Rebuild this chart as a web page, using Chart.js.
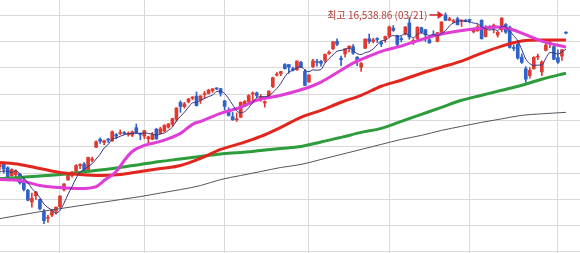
<!DOCTYPE html>
<html>
<head>
<meta charset="utf-8">
<script src="https://cdn.jsdelivr.net/npm/chart.js@4.4.1/dist/chart.umd.min.js"></script>
<style>
html, body { margin: 0; padding: 0; background: #fff; }
#wrap { width: 580px; height: 253px; }
</style>
</head>
<body>
<div id="wrap"><canvas id="chart" width="580" height="253"></canvas></div>
<script>
// daily candles, 2023-10-11 .. 2024-05-03 (index = trading day)
const openP = [13620,13700,13600,13450,13470,13480,13360,13170,12950,13070,13000,12770,12640,12700,12780,
  12860,13180,13370,13450,13530,13640,13670,13550,13740,13990,14140,14080,14130,14110,14230,14250,14260,14230,14220,14360,14250,
  14200,14150,14140,14330,14250,14300,14370,14430,14520,14840,14760,14850,14920,14960,14880,14990,15010,15060,15110,15100,
  14870,14690,14570,14510,14560,14770,14850,15000,15020,14900,14830,14950,15140,15360,15390,15560,15560,15480,15460,15600,15430,
  15230,15520,15600,15620,15640,15770,15860,16000,15680,15760,15880,15900,15700,15510,15870,16050,16000,16040,15980,16040,
  16100,16250,16110,16050,16140,16350,16000,16050,16260,16220,16030,16130,16000,16170,16500,16400,16370,16430,16390,16390,
  16400,16180,16200,16400,16090,16270,16290,16120,16220,16320,16270,15880,15950,15700,15480,15350,15480,15700,15420,15830,15960,15900,
  15690,15720,16170];
const highP = [13670,13710,13620,13580,13560,13500,13420,13190,13120,13150,13010,12810,12700,12810,12860,
  13070,13300,13500,13530,13660,13680,13700,13800,13800,14110,14170,14125,14160,14300,14250,14320,14290,14280,14300,14430,14260,
  14310,14200,14270,14350,14370,14420,14440,14540,14740,14870,14840,14920,14950,15040,14970,15050,15090,15100,15120,15110,
  14880,14740,14650,14640,14850,14880,14990,15040,15040,14990,14870,15060,15320,15410,15430,15580,15560,15510,15630,15620,15470,
  15370,15660,15660,15640,15760,15820,16000,16050,15720,15860,15920,15940,15710,15600,16050,16140,16060,16070,16000,16100,
  16290,16300,16120,16090,16280,16450,16050,16280,16270,16230,16090,16200,16170,16370,16538.86,16460,16420,16460,16400,16420,
  16420,16250,16320,16410,16300,16300,16330,16190,16450,16340,16290,15930,15950,15760,15520,15500,15710,15760,15630,15960,16000,15920,
  15840,15850,16180];
const lowP = [13560,13500,13360,13440,13390,13290,13160,12970,12850,13000,12800,12540,12560,12670,12720,
  12840,13160,13360,13420,13510,13580,13510,13540,13710,13980,14060,14040,14080,14100,14150,14230,14230,14200,14190,14250,14130,
  14150,14060,14130,14140,14240,14280,14350,14390,14480,14650,14730,14830,14890,14770,14820,14920,15000,15030,15080,14960,
  14700,14580,14500,14480,14550,14760,14840,14870,14930,14860,14750,14910,15120,15340,15350,15470,15390,15440,15450,15500,15160,
  15220,15500,15530,15530,15600,15750,15840,15920,15540,15700,15800,15750,15540,15430,15860,15960,15970,15980,15900,15980,
  16080,16190,15880,15990,16120,16040,15940,16020,16150,16000,15960,16090,15990,16130,16390,16390,16350,16310,16280,16370,
  16350,16160,16190,16040,16080,16230,16160,16080,16180,16150,15870,15820,15660,15580,15220,15300,15470,15650,15350,15820,15880,15650,
  15580,15640,16140];
const closeP = [13659,13574,13407,13567,13533,13314,13186,12984,13019,13139,12821,12595,12643,12789,12851,
  13061,13294,13478,13518,13640,13650,13521,13798,13768,14094,14103,14113,14125,14285,14200,14266,14250,14241,14282,14258,14226,
  14305,14185,14229,14147,14339,14404,14432,14533,14734,14762,14814,14905,14944,14778,14964,14993,15074,15100,15096,15011,
  14766,14592,14511,14524,14843,14857,14970,15003,14973,14944,14856,15056,15311,15361,15426,15482,15511,15455,15628,15510,15164,
  15361,15629,15598,15582,15756,15794,15990,15943,15655,15859,15906,15776,15631,15580,16041,15996,16028,16035,15948,16092,
  16275,16207,15940,16032,16273,16085,16019,16265,16178,16129,15973,16103,16166,16369,16401,16429,16384,16315,16400,16379,
  16397,16240,16277,16050,16249,16253,16306,16170,16442,16175,15885,15865,15683,15601,15282,15451,15697,15713,15611,15928,15983,15658,
  15605,15840,16156];

// moving averages at sample days
const ma5Head = [13520, 13540, 13530, 13510];   // first 4 days of the 5-day line (earlier closes not shown)
const maIdx = [0,5,10,15,20,25,30,35,40,45,50,55,60,65,70,75,80,85,90,95,100,105,110,115,120,125,130,135,141];
const ma60 = [13700,13662,13585,13510,13471,13452,13471,13528,13585,13643,13776,13947,14062,14195,14367,14557,14690,14843,14976,15147,
  15262,15395,15509,15624,15776,15910,16005,16024,16024];
const ma120 = [13395,13414,13443,13471,13510,13557,13604,13662,13719,13766,13814,13862,13890,13928,13966,14005,14090,14176,14271,14347,
  14481,14614,14747,14881,14976,15071,15167,15281,15395];
const ma240 = [12633,12700,12766,12823,12881,12938,12995,13052,13119,13185,13262,13376,13452,13528,13605,13662,13757,13852,13947,14043,
  14138,14214,14309,14386,14462,14528,14595,14624,14652];
const ma20Idx = [0,5,10,15,20,24,26,29,31,33,36,40,45,48,50,55,60,64,70,77,80,85,88,92,96,100,103,110,118,124,127,130,135,141];
const ma20 = [13376,13357,13262,13223,13205,13243,13357,13528,13738,13909,14024,14100,14252,14424,14481,14633,14748,14881,14976,15128,
  15224,15452,15586,15719,15833,15910,15986,16138,16233,16271,16233,16157,16005,15890];

const monthStarts = [15, 36, 56, 77, 97, 117, 139];
const yTicks = [12000, 12500, 13000, 13500, 14000, 14500, 15000, 15500, 16000, 16500];
const peakIdx = 111;
const peakLabel = "최고 16,538.86 (03/21)";

const UP = "#e0392f";
const DOWN = "#2f62c8";

const candleColor = closeP.map((c, i) => (c >= openP[i] ? UP : DOWN));
const bodies = closeP.map((c, i) => ({ x: i, y: [openP[i], c] }));
const wicks = closeP.map((c, i) => ({ x: i, y: [lowP[i], highP[i]] }));
const ma5 = ma5Head.map((v, i) => ({ x: i, y: v }));
for (let i = 4; i < closeP.length; i++) {
    let s = 0;
    for (let k = i - 4; k <= i; k++) s += closeP[k];
    ma5.push({ x: i, y: s / 5 });
}
const pts = (idx, vals) => idx.map((x, i) => ({ x: x, y: vals[i] }));

const peakNote = {
    id: "peakNote",
    afterDatasetsDraw(chart) {
        const { ctx, scales } = chart;
        const x = scales.x.getPixelForValue(peakIdx) - 2;
        const y = scales.y.getPixelForValue(highP[peakIdx]) + 2;
        ctx.save();
        ctx.strokeStyle = "#d8262a";
        ctx.fillStyle = "#d8262a";
        ctx.lineWidth = 1.5;
        ctx.beginPath();
        ctx.moveTo(x - 14, y);
        ctx.lineTo(x - 4, y);
        ctx.stroke();
        ctx.beginPath();
        ctx.moveTo(x, y);
        ctx.lineTo(x - 6, y - 4);
        ctx.lineTo(x - 6, y + 4);
        ctx.closePath();
        ctx.fill();
        ctx.font = '10px "Noto Sans CJK KR", "Noto Sans", sans-serif';
        ctx.fillStyle = "#b23b33";
        ctx.textAlign = "right";
        ctx.textBaseline = "middle";
        ctx.fillText(peakLabel, x - 16, y);
        ctx.restore();
    }
};

const lineSet = (data, color, width, order) => ({
    type: "line",
    data: data,
    borderColor: color,
    borderWidth: width,
    pointRadius: 0,
    fill: false,
    cubicInterpolationMode: "monotone",
    order: order
});

new Chart(document.getElementById("chart").getContext("2d"), {
    type: "bar",
    data: {
        datasets: [
            lineSet(ma5, "#35357e", 1, 0),
            lineSet(pts(ma20Idx, ma20), "#e03cd6", 3, 1),
            lineSet(pts(maIdx, ma60), "#e2261e", 3, 2),
            lineSet(pts(maIdx, ma120), "#2c9c3c", 3, 3),
            lineSet(pts(maIdx, ma240), "#55555f", 1, 4),
            {
                data: wicks,
                backgroundColor: candleColor,
                barThickness: 1,
                grouped: false,
                minBarLength: 1,
                order: 6
            },
            {
                data: bodies,
                backgroundColor: candleColor,
                barThickness: 3,
                grouped: false,
                minBarLength: 1,
                order: 5
            }
        ]
    },
    options: {
        responsive: false,
        animation: false,
        layout: { padding: 0 },
        plugins: { legend: { display: false }, tooltip: { enabled: false } },
        scales: {
            x: {
                type: "linear",
                min: 0.06,
                max: 144.5,
                offset: false,
                afterBuildTicks: (s) => { s.ticks = monthStarts.map((v) => ({ value: v })); },
                ticks: { display: false },
                border: { display: false },
                grid: { color: "#d9d9d9", drawTicks: false, offset: false }
            },
            y: {
                min: 11981,
                max: 16785,
                afterBuildTicks: (s) => { s.ticks = yTicks.map((v) => ({ value: v })); },
                ticks: { display: false },
                border: { display: false },
                grid: { color: "#d9d9d9", drawTicks: false }
            }
        }
    },
    plugins: [peakNote]
});
</script>
</body>
</html>
